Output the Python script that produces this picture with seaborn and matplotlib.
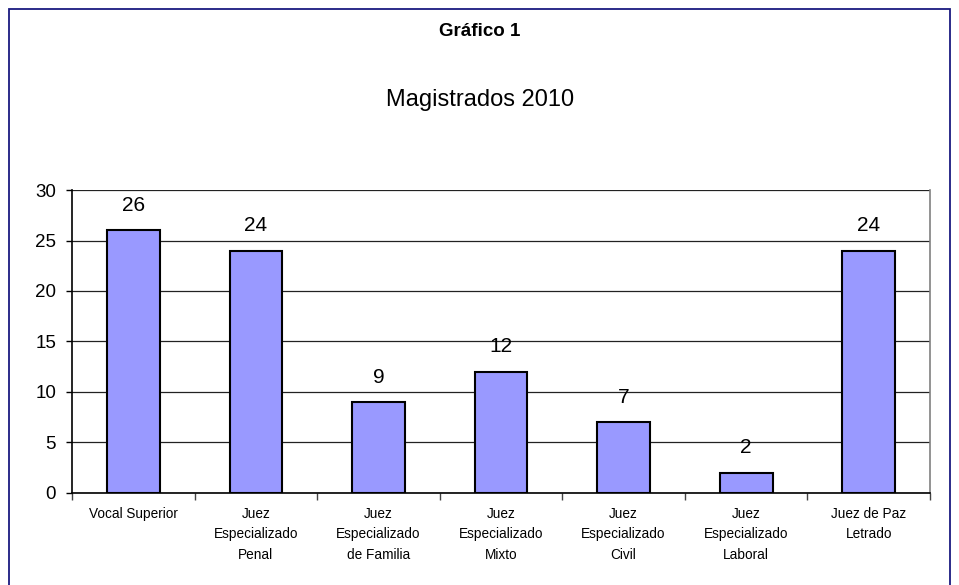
import matplotlib
matplotlib.use("Agg")
import matplotlib.pyplot as plt
import seaborn as sns
import pandas as pd
from matplotlib.patches import Rectangle
from matplotlib.ticker import MultipleLocator, FixedLocator

# Datos
categorias = [
    "Vocal Superior",
    "Juez\nEspecializado\nPenal",
    "Juez\nEspecializado\nde Familia",
    "Juez\nEspecializado\nMixto",
    "Juez\nEspecializado\nCivil",
    "Juez\nEspecializado\nLaboral",
    "Juez de Paz\nLetrado",
]
magistrados = [26, 24, 9, 12, 7, 2, 24]

titulo = "Gráfico 1"
subtitulo = "Magistrados 2010"

sns.set_theme(style="white")
plt.rcParams['font.family'] = ['Liberation Sans', 'DejaVu Sans']
plt.rcParams['text.color'] = 'black'
plt.rcParams['xtick.color'] = 'black'
plt.rcParams['ytick.color'] = 'black'

df = pd.DataFrame({'Categoria': categorias, 'Magistrados': magistrados})

fig = plt.figure(figsize=(9.59, 5.85), dpi=100)
ax = fig.add_axes([0.0751, 0.1573, 0.8947, 0.5179])

sns.barplot(data=df, x='Categoria', y='Magistrados', color='#9999FF',
            edgecolor='black', linewidth=1.5, width=0.43, saturation=1, ax=ax)

ax.set_xlim(-0.5, len(categorias) - 0.5)
ax.set_ylim(0, 30)
ax.yaxis.set_major_locator(MultipleLocator(5))
ax.grid(axis='y', color='#222222', linewidth=0.9)
ax.set_axisbelow(True)

# Rótulos de valor
for i, v in enumerate(magistrados):
    ax.annotate(str(v), (i, v), xytext=(0, 14), textcoords='offset points',
                ha='center', va='baseline', fontsize=15, color='black')

ax.set_xlabel('')
ax.set_ylabel('')
ax.tick_params(axis='y', which='major', direction='out', length=4.5, width=1,
               color='black', labelsize=13.5, left=True, pad=7)
ax.tick_params(axis='x', which='major', length=0, labelsize=9.8, pad=10)
ax.set_xticks(range(len(categorias)))
ax.set_xticklabels(categorias, linespacing=1.6)
ax.xaxis.set_minor_locator(FixedLocator([i + 0.5 for i in range(-1, len(categorias))]))
ax.tick_params(axis='x', which='minor', direction='out', length=5, width=1,
               color='#444444', bottom=True)

for side in ['left', 'bottom']:
    ax.spines[side].set_color('black')
    ax.spines[side].set_linewidth(1.2)
ax.spines['right'].set_color('#808080')
ax.spines['right'].set_linewidth(1.2)
ax.spines['top'].set_visible(False)

fig.text(0.5005, 1 - 36 / 585, titulo, ha='center', va='baseline',
         fontsize=13.5, fontweight='bold')
fig.text(0.5005, 1 - 106 / 585, subtitulo, ha='center', va='baseline',
         fontsize=17)

# Borde exterior
borde = Rectangle((9 / 959, -0.02), (950 - 9) / 959, 1.02 - 9 / 585,
                  transform=fig.transFigure, fill=False,
                  edgecolor='#1a1a80', linewidth=1.3)
fig.patches.append(borde)

fig.savefig('out.png', dpi=100)
